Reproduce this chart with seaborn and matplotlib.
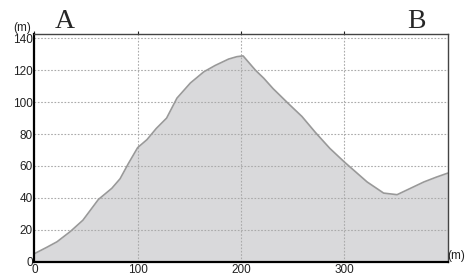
import seaborn as sns
import matplotlib.pyplot as plt
import pandas as pd

# elevation profile, distance (m) vs elevation (m)
dist = [0, 12, 22, 35, 47, 62, 75, 83, 91, 100, 109, 118, 128, 138, 151, 164, 175,
        188, 196, 202, 214, 222, 231, 246, 259, 272, 286, 300, 322, 338, 351, 364,
        377, 389, 400]
elev = [5, 9, 12.5, 19, 26, 39, 46, 52, 61.5, 71.5, 76.5, 83.5, 90, 102.5, 112, 119, 123,
        127, 128.5, 129, 120, 115, 108.5, 99, 91, 81, 71, 62.5, 50, 43, 42, 46,
        50, 53, 55.5]
xticks = [0, 100, 200, 300]
yticks = [0, 20, 40, 60, 80, 100, 120, 140]

df = pd.DataFrame({'dist': dist, 'elev': elev})

sns.set_style('white')
plt.rcParams['font.family'] = ['Liberation Sans', 'DejaVu Sans']

fig = plt.figure(figsize=(4.65, 2.73), dpi=100)
ax = fig.add_axes([0.0738, 0.0414, 0.889, 0.834])

ax.fill_between(df['dist'], df['elev'], 0, color='#d9d9db', zorder=1, linewidth=0)
sns.lineplot(data=df, x='dist', y='elev', ax=ax, color='#999999', linewidth=1.2, zorder=2)

ax.set_xlim(0, 400)
ax.set_ylim(0, 142.7)
ax.set_xticks(xticks)
ax.set_yticks(yticks)
ax.set_xlabel('')
ax.set_ylabel('')
# grid above the fill but under the outline and spines
ax.set_axisbelow('line')
ax.grid(True, color='#aaaaaa', linestyle=(0, (1.5, 1.5)), linewidth=0.8)
ax.tick_params(axis='both', length=0, labelsize=8.5, pad=1, colors='#222222')
ax.tick_params(axis='x', top=True, length=2, direction='out', color='#222222', pad=0)

for s in ['left', 'bottom']:
    ax.spines[s].set_linewidth(1.6)
    ax.spines[s].set_color('black')
for s in ['top', 'right']:
    ax.spines[s].set_linewidth(1.0)
    ax.spines[s].set_color('#444444')

fig.text(22 / 465, 1 - 28 / 273, '(m)', fontsize=8.5, ha='center', va='center', color='#222222')
fig.text(456 / 465, 1 - 256 / 273, '(m)', fontsize=8.5, ha='center', va='center', color='#222222')
fig.text(65 / 465, 1 - 22 / 273, 'A', fontsize=20, family='Liberation Serif', ha='center', va='center')
fig.text(416 / 465, 1 - 22 / 273, 'B', fontsize=20, family='Liberation Serif', ha='center', va='center')

fig.savefig('out.png', dpi=100)
